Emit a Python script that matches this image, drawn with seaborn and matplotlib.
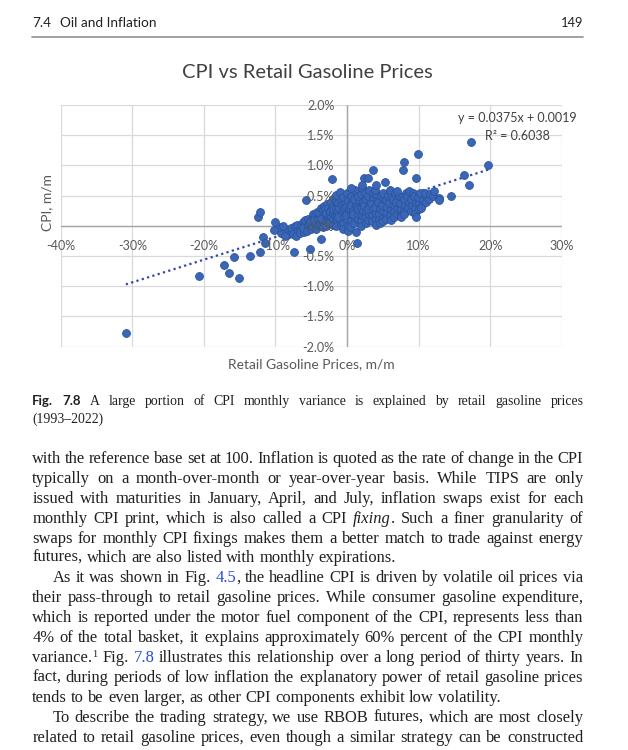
import re

import matplotlib
matplotlib.use("Agg")
import matplotlib.pyplot as plt
import pandas as pd
import seaborn as sns
from matplotlib.lines import Line2D
from matplotlib.ticker import FixedLocator, FuncFormatter

W, H = 628, 750

# --- chart data (monthly % changes) ---
CORE_GAS = [
    -8.1, -7.8, -8.4, -7.6, -7.3, -7.0, -6.9, -7.1, -6.6, -6.4,
    -6.5, -6.2, -6.0, -5.9, -5.8, -6.1, -5.5, -5.4, -5.6, -5.3,
    -5.0, -4.9, -5.1, -4.8, -4.7, -4.5, -4.4, -4.6, -4.3, -4.2,
    -4.0, -3.9, -4.1, -3.8, -3.7, -3.5, -3.4, -3.3, -3.6, -3.2,
    -3.4, -3.0, -2.9, -3.1, -2.8, -3.0, -2.7, -2.9, -2.5, -2.4,
    -2.6, -2.3, -2.5, -2.2, -2.4, -2.0, -1.9, -2.1, -1.8, -2.0,
    -1.7, -1.9, -1.6, -1.5, -1.4, -1.6, -1.3, -1.5, -1.2, -1.4,
    -1.6, -1.0, -0.9, -1.1, -0.8, -1.0, -0.9, -1.2, -0.7, -0.5,
    -0.4, -0.6, -0.3, -0.5, -0.2, -0.4, -0.6, 0.0, 0.1, -0.1,
    0.2, 0.0, 0.1, -0.2, 0.3, 0.1, 0.5, 0.6, 0.4, 0.7,
    0.5, 0.8, 0.6, 0.4, 1.0, 1.1, 0.9, 1.2, 1.0, 1.1,
    0.9, 1.2, 1.5, 1.6, 1.4, 1.7, 1.5, 1.6, 2.0, 2.1,
    1.9, 2.2, 2.0, 2.1, 1.9, 2.3, 2.5, 2.6, 2.4, 2.7,
    2.5, 2.6, 3.0, 3.1, 2.9, 3.2, 3.0, 3.1, 2.9, 3.5,
    3.6, 3.4, 3.7, 3.5, 3.6, 4.0, 4.1, 3.9, 4.2, 4.0,
    4.1, 3.9, 4.5, 4.6, 4.4, 4.7, 4.5, 4.6, 5.0, 5.1,
    4.9, 5.2, 5.0, 5.1, 5.5, 5.6, 5.4, 5.7, 5.5, 6.0,
    6.1, 5.9, 6.2, 6.0, 6.1, 6.5, 6.6, 6.4, 6.7, 6.5,
    7.0, 7.1, 6.9, 7.2, 7.0, 7.5, 7.6, 7.4, 7.7, 7.5,
    8.0, 8.1, 7.9, 8.2, 8.0, 8.5, 8.6, 8.4, 8.7, 9.0,
    9.1, 8.9, 9.2, 9.5, 9.6, 9.4, 9.5, 10.0, 10.1, 9.9,
    10.2, 10.5, 10.6, 10.4, 11.0, 11.1, 10.9, 11.5, 11.6, 12.0,
    12.1, -8.8, -9.2, -9.5, -8.6, -9.0,
]
CORE_CPI = [
    -0.10, -0.04, -0.15, -0.13, -0.01, 0.02, -0.08, -0.16, -0.05, 0.01,
    -0.12, 0.06, -0.10, 0.03, 0.09, -0.03, 0.00, 0.11, -0.08, 0.05,
    -0.05, 0.13, 0.06, 0.19, 0.00, 0.03, 0.16, 0.09, -0.06, 0.23,
    0.10, 0.21, 0.01, 0.05, 0.29, 0.15, 0.26, 0.06, 0.12, 0.33,
    -0.02, 0.08, 0.18, 0.28, 0.36, 0.00, 0.12, 0.22, 0.10, 0.20,
    0.30, 0.39, 0.04, 0.15, 0.25, 0.12, 0.22, 0.32, 0.46, 0.02,
    0.18, 0.28, 0.41, 0.08, 0.18, 0.28, 0.38, 0.51, 0.25, 0.12,
    -0.01, 0.10, 0.20, 0.30, 0.43, 0.56, 0.02, 0.15, 0.35, 0.05,
    0.15, 0.25, 0.36, 0.48, 0.22, 0.30, -0.05, 0.12, 0.22, 0.32,
    0.42, 0.55, 0.00, 0.18, 0.28, -0.08, 0.10, 0.20, 0.30, 0.40,
    0.50, 0.25, 0.35, -0.02, 0.05, 0.15, 0.25, 0.35, 0.45, 0.60,
    0.20, -0.10, 0.12, 0.22, 0.32, 0.42, 0.50, 0.28, 0.08, 0.18,
    0.30, 0.40, 0.52, 0.62, 0.00, 0.25, 0.15, 0.25, 0.35, 0.45,
    0.55, 0.05, 0.10, 0.20, 0.30, 0.40, 0.50, 0.60, 0.28, 0.18,
    0.28, 0.38, 0.48, 0.08, 0.55, 0.12, 0.22, 0.32, 0.42, 0.52,
    0.02, 0.60, 0.20, 0.30, 0.40, 0.50, 0.10, 0.05, 0.15, 0.25,
    0.35, 0.45, 0.55, 0.08, 0.22, 0.32, 0.42, 0.50, 0.12, 0.18,
    0.28, 0.38, 0.48, 0.60, 0.10, 0.25, 0.35, 0.45, 0.55, 0.15,
    0.20, 0.30, 0.40, 0.50, 0.58, 0.18, 0.28, 0.38, 0.48, 0.15,
    0.25, 0.35, 0.45, 0.55, 0.20, 0.30, 0.40, 0.50, 0.58, 0.25,
    0.35, 0.45, 0.55, 0.30, 0.40, 0.50, 0.20, 0.28, 0.38, 0.48,
    0.55, 0.35, 0.45, 0.30, 0.40, 0.50, 0.55, 0.45, 0.52, 0.50,
    0.58, -0.05, -0.12, -0.02, -0.16, 0.00,
]
OUTLIER_GAS = [
    -30.9, -20.7, -17.2, -16.5, -15.8, -15.1, -13.6, -12.1, -12.5, -12.2,
    -11.7, -11.5, -10.0, -10.2, -7.4, -5.2, -3.6, -5.7, -2.1, 1.4,
    3.6, 2.4, 2.9, 7.9, 7.8, 9.9, 9.7, 17.3, 19.7, 16.4,
    17.0, 14.5, 12.8, 12.9, 9.6, 5.3, 4.1, 0.5, 2.1,
]
OUTLIER_CPI = [
    -1.78, -0.83, -0.64, -0.78, -0.51, -0.87, -0.50, -0.44, 0.14, 0.23,
    -0.18, -0.28, 0.07, -0.07, -0.43, -0.38, -0.22, 0.42, 0.78, -0.28,
    0.92, 0.79, 0.79, 1.06, 0.92, 1.19, 0.79, 1.38, 1.01, 0.84,
    0.67, 0.50, 0.46, 0.42, 0.14, 0.72, 0.67, 0.63, 0.68,
]

# linear trendline shown on the chart: y = 0.0375x + 0.0019
TREND_SLOPE = 0.0375
TREND_INTERCEPT = 0.19   # in percent
TREND_X = [-30.9, 19.8]

X_TICKS = [-40, -30, -20, -10, 0, 10, 20, 30]
Y_TICKS = [-2.0, -1.5, -1.0, -0.5, 0.0, 0.5, 1.0, 1.5, 2.0]

CAPTION = "A large portion of CPI monthly variance is explained by retail gasoline prices"
CAPTION_2 = "(1993–2022)"
BODY = [
    ("with the reference base set at 100. Inflation is quoted as the rate of change in the CPI", 0, True),
    ("typically on a month-over-month or year-over-year basis. While TIPS are only", 0, True),
    ("issued with maturities in January, April, and July, inflation swaps exist for each", 0, True),
    ("monthly CPI print, which is also called a CPI *fixing*. Such a finer granularity of", 0, True),
    ("swaps for monthly CPI fixings makes them a better match to trade against energy", 0, True),
    ("futures, which are also listed with monthly expirations.", 0, False),
    ("As it was shown in Fig. [4.5], the headline CPI is driven by volatile oil prices via", 1, True),
    ("their pass-through to retail gasoline prices. While consumer gasoline expenditure,", 0, True),
    ("which is reported under the motor fuel component of the CPI, represents less than", 0, True),
    ("4% of the total basket, it explains approximately 60% percent of the CPI monthly", 0, True),
    ("variance.^1 Fig. [7.8] illustrates this relationship over a long period of thirty years. In", 0, True),
    ("fact, during periods of low inflation the explanatory power of retail gasoline prices", 0, True),
    ("tends to be even larger, as other CPI components exhibit low volatility.", 0, False),
    ("To describe the trading strategy, we use RBOB futures, which are most closely", 1, True),
    ("related to retail gasoline prices, even though a similar strategy can be constructed", 0, True),
]

sns.set_theme(style="white")
plt.rcParams["font.family"] = ["Lato", "DejaVu Sans"]

fig = plt.figure(figsize=(W / 100, H / 100), dpi=100)
fig.patch.set_facecolor("white")


def px(x, y):
    return x / W, 1 - y / H


# --- the chart ---
ax = fig.add_axes([60.7 / W, 1 - 346.7 / H, 501 / W, 241.7 / H])
df = pd.DataFrame({
    "gas": CORE_GAS + OUTLIER_GAS,
    "cpi": CORE_CPI + OUTLIER_CPI,
})
trend = pd.DataFrame({
    "gas": TREND_X,
    "cpi": [TREND_SLOPE * v + TREND_INTERCEPT for v in TREND_X],
})

for v in X_TICKS:
    ax.axvline(v, color="#D9D9D9", lw=0.9, zorder=0.2)
for v in Y_TICKS:
    ax.axhline(v, color="#D9D9D9", lw=0.9, zorder=0.2)
ax.axvline(0, color="#A6A6A6", lw=1.0, zorder=0.3)
ax.axhline(0, color="#A6A6A6", lw=1.0, zorder=0.3)

sns.lineplot(data=trend, x="gas", y="cpi", ax=ax, color="#3347B0", lw=1.6,
             linestyle=(0, (1, 1.5)), zorder=0.9)
sns.scatterplot(data=df, x="gas", y="cpi", ax=ax, s=32, color="#3A66B5",
                edgecolor="#2A55A2", linewidth=0.6, zorder=1, legend=False)

ax.set_xlim(-40, 30)
ax.set_ylim(-2, 2)
ax.set_xlabel("")
ax.set_ylabel("")
ax.set_facecolor("none")
for side in ["top", "right", "left", "bottom"]:
    ax.spines[side].set_visible(False)
ax.spines["left"].set_position(("data", 0))
ax.spines["bottom"].set_position(("data", 0))
ax.set_axisbelow(False)
ax.xaxis.set_major_locator(FixedLocator(X_TICKS))
ax.yaxis.set_major_locator(FixedLocator(Y_TICKS))
ax.xaxis.set_major_formatter(FuncFormatter(lambda v, _: f"{v:.0f}%"))
ax.yaxis.set_major_formatter(FuncFormatter(lambda v, _: f"{v:.1f}%"))
ax.tick_params(axis="both", length=0, labelsize=9, labelcolor="#595959")
ax.tick_params(axis="y", pad=9)
ax.tick_params(axis="x", pad=10)

fig.text(*px(307, 73), "CPI vs Retail Gasoline Prices", ha="center", va="center",
         fontsize=14.5, color="#404040")
fig.text(*px(577, 118), "y = 0.0375x + 0.0019", ha="right", va="center",
         fontsize=9, color="#404040")
fig.text(*px(550, 136), "R² = 0.6038", ha="right", va="center",
         fontsize=9, color="#404040")
fig.text(*px(311, 364), "Retail Gasoline Prices, m/m", ha="center", va="center",
         fontsize=10, color="#595959")
fig.text(*px(46.7, 203), "CPI, m/m", ha="center", va="center", rotation=90,
         fontsize=10, color="#595959")

# --- page header ---
INK = "#231F20"
LEFT, RIGHT = 32.3, 583.3
fig.text(*px(LEFT, 27), "7.4", va="baseline", fontsize=9.8, color=INK)
fig.text(*px(60, 27), "Oil and Inflation", va="baseline", fontsize=9.8, color=INK)
fig.text(*px(RIGHT, 27), "149", ha="right", va="baseline", fontsize=9.3, color=INK)
fig.add_artist(Line2D([LEFT / W, RIGHT / W], [1 - 36.5 / H] * 2,
                      color="#9A9A9A", lw=1.3))

# --- justified text helpers ---
LINK = "#2A4BD7"
TOKEN = re.compile(r"(\*[^*]+\*|\[[^\]]+\]|\^\d+)")
renderer = fig.canvas.get_renderer()


def runs_of(word, base):
    runs = []
    for piece in TOKEN.split(word):
        if not piece:
            continue
        if piece.startswith("*"):
            runs.append((piece[1:-1], dict(base, style="italic")))
        elif piece.startswith("["):
            runs.append((piece[1:-1], dict(base, color=LINK)))
        elif piece.startswith("^"):
            runs.append((piece[1:], dict(base, size=base["size"] * 0.62, dy=-5)))
        else:
            runs.append((piece, base))
    return runs


def draw_line(text, x0, x1, y, base, justify=True, prefix=None):
    # whole-pixel baseline keeps every word on the same row
    y = round(y)
    words = [runs_of(w, base) for w in text.split(" ")]
    if prefix:
        words = prefix + words
    placed, widths = [], []
    for word in words:
        arts, w = [], 0.0
        for piece, props in word:
            p = dict(props)
            dy = p.pop("dy", 0)
            t = fig.text(0, 0, piece, ha="left", va="baseline", **p)
            arts.append((t, w, dy))
            w += t.get_window_extent(renderer).width
        placed.append(arts)
        widths.append(w)
    gap = base["size"] * 100 / 72 * 0.25
    if justify and len(words) > 1:
        gap = (x1 - x0 - sum(widths)) / (len(words) - 1)
    x = x0
    for arts, w in zip(placed, widths):
        for t, off, dy in arts:
            t.set_position(px(x + off, y + dy))
        x += w + gap


cap_base = dict(family="Liberation Serif", size=9.9, color=INK)
bold = dict(family="Lato", size=9.5, weight="bold", color=INK)
draw_line(CAPTION, LEFT, RIGHT, 405, cap_base,
          prefix=[[("Fig.", bold)], [("7.8", bold)]])
draw_line(CAPTION_2, LEFT, RIGHT, 423, cap_base, justify=False)

body_base = dict(family="Liberation Serif", size=11.9, color=INK)
for i, (line, indent, just) in enumerate(BODY):
    y = 459 + 19.9 * i + 4
    draw_line(line, LEFT + 20.3 * indent, RIGHT, y, body_base, justify=just)

fig.savefig("out.png", dpi=100, facecolor="white")
